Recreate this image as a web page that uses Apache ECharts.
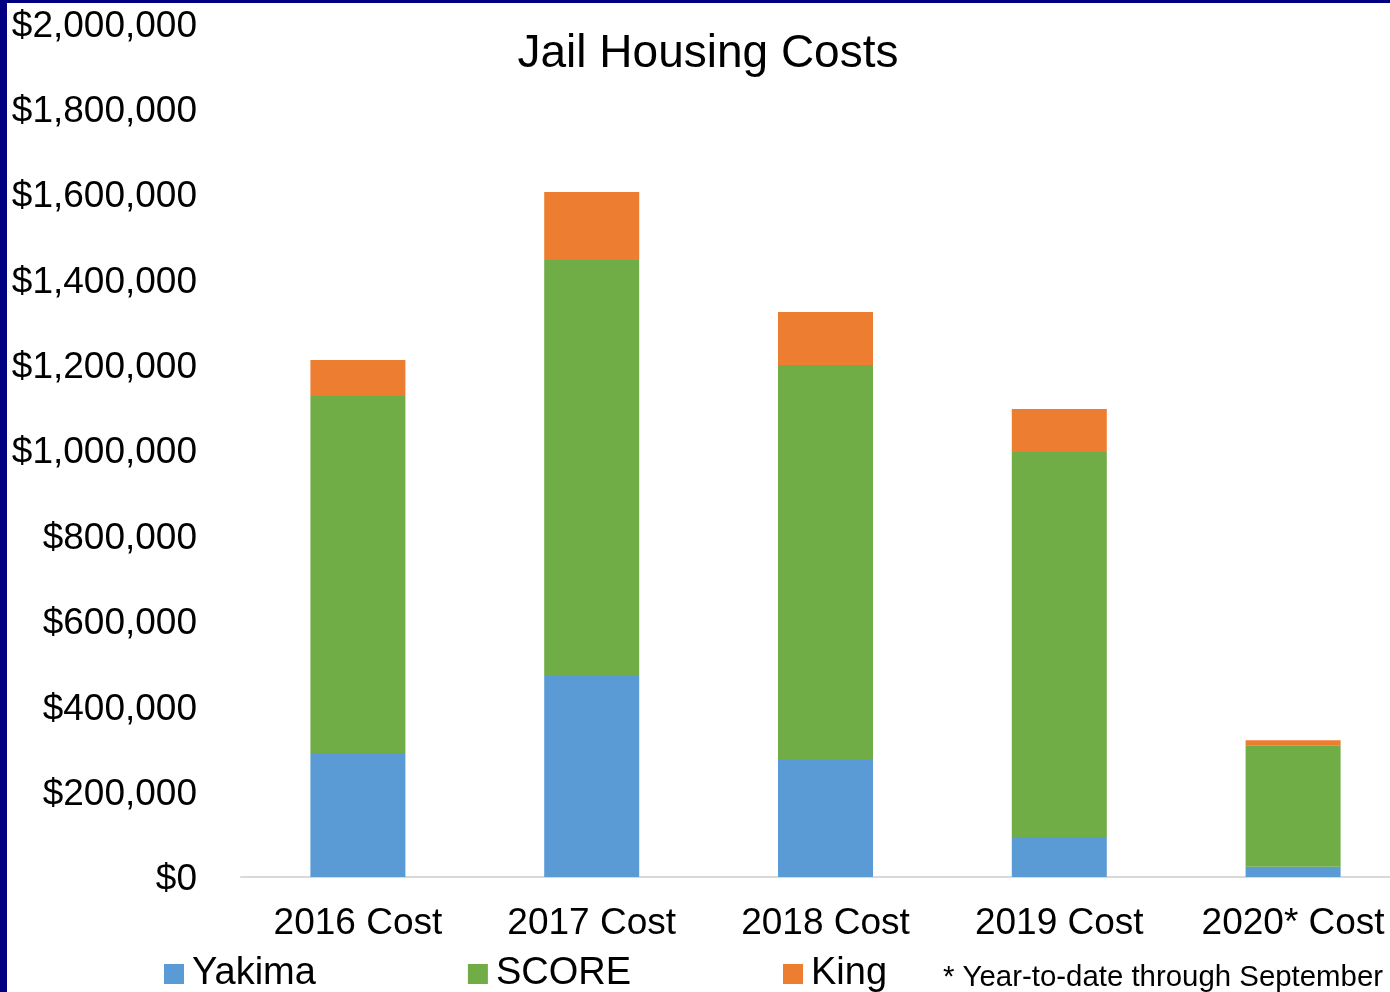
<!DOCTYPE html>
<html>
<head>
<meta charset="utf-8">
<script src="https://cdn.jsdelivr.net/npm/echarts@6/dist/echarts.min.js"></script>
<style>
html,body{margin:0;padding:0;background:#fff;}
#wrap{position:absolute;left:0;top:0;width:1390px;height:992px;background:#fff;overflow:hidden;}
#bl{position:absolute;left:0;top:0;width:7px;height:992px;background:#000080;}
#bt{position:absolute;left:0;top:0;width:1390px;height:3px;background:#000080;}
#chart{position:absolute;left:0;top:0;width:1430px;height:992px;}
</style>
</head>
<body>
<div id="wrap"><div id="chart"></div><div id="bl"></div><div id="bt"></div></div>
<script>
const categories = ['2016 Cost', '2017 Cost', '2018 Cost', '2019 Cost', '2020* Cost'];
const yakima = [290600, 473300, 274100, 93700, 24100];
const score = [836500, 972400, 925500, 902100, 284500];
const king = [84400, 159300, 124200, 100700, 11700];
const seriesNames = ['Yakima', 'SCORE', 'King'];
const colors = ['#5B9BD5', '#70AD47', '#ED7D31'];
const titleText = 'Jail Housing Costs';
const footnote = '* Year-to-date through September';

const font = '"Liberation Sans", Arial, sans-serif';
const chart = echarts.init(document.getElementById('chart'));
const dataSets = [yakima, score, king];
chart.setOption({
  animation: false,
  backgroundColor: 'transparent',
  title: {
    text: titleText,
    left: 703, top: 26, textAlign: 'center',
    textStyle: {fontFamily: font, fontSize: 46, fontWeight: 'normal', color: '#000'}
  },
  legend: {
    data: seriesNames,
    left: 164, top: 955, padding: 0,
    itemWidth: 20, itemHeight: 20, itemGap: 152,
    icon: 'rect',
    textStyle: {fontFamily: font, fontSize: 38, color: '#000', padding: [0, 0, 0, 3]}
  },
  graphic: [{
    type: 'text', left: 943, top: 963,
    style: {text: footnote, font: '29.4px ' + font, fill: '#000'}
  }],
  grid: {left: 241, top: 23.5, width: 1169, bottom: 115, containLabel: false},
  xAxis: {
    type: 'category', data: categories,
    axisLine: {show: true, lineStyle: {color: '#d9d9d9', width: 2}},
    axisTick: {show: false},
    axisLabel: {fontFamily: font, fontSize: 37, color: '#000', margin: 28, interval: 0}
  },
  yAxis: {
    type: 'value', min: 0, max: 2000000, interval: 200000,
    splitLine: {show: false},
    axisLine: {show: false}, axisTick: {show: false},
    axisLabel: {
      color: '#000', margin: 44,
      formatter: v => '{a|$' + v.toLocaleString('en-US') + '}',
      rich: {a: {fontFamily: font, fontSize: 37, color: '#000', padding: [6, 0, 0, 0]}}
    }
  },
  series: seriesNames.map((n, i) => ({
    name: n, type: 'bar', stack: 'total', data: dataSets[i],
    barWidth: 95, itemStyle: {color: colors[i]}
  }))
});
</script>
</body>
</html>
